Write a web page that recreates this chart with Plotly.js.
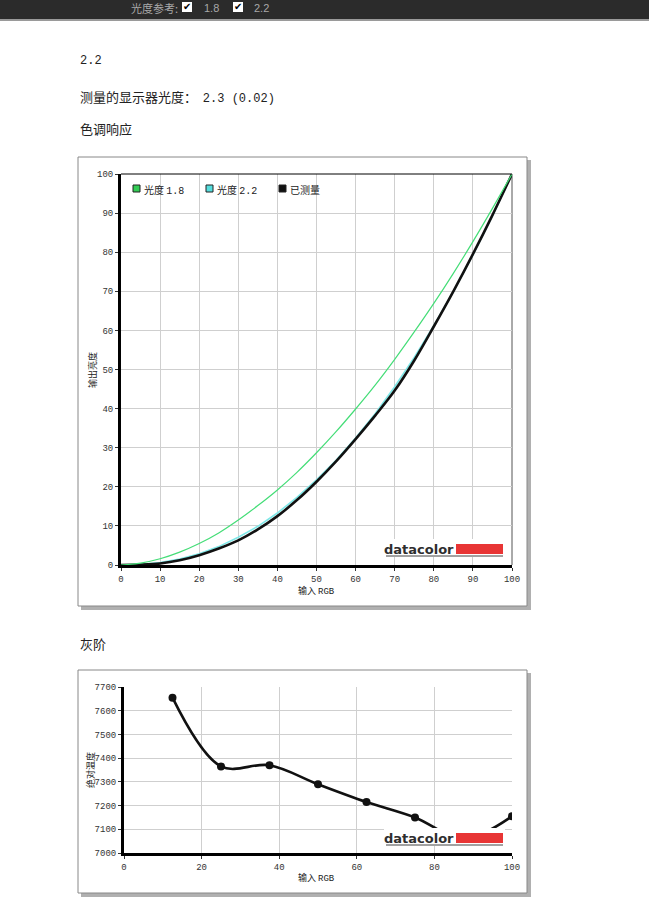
<!DOCTYPE html>
<html>
<head>
<meta charset="utf-8">
<script src="https://cdn.plot.ly/plotly-3.0.1.min.js"></script>
<style>
html,body{margin:0;padding:0;background:#fff;}
#chart{width:649px;height:922px;}
</style>
</head>
<body>
<div id="chart"></div>
<script>
// ---- data ----
const rgbInput = [0,5,10,15,20,25,30,35,40,45,50,55,60,65,70,75,80,85,90,95,100];
const gamma18 = [0,0.5,1.6,3.3,5.5,8.2,11.5,15.2,19.2,23.7,28.7,34.1,39.9,46.0,52.6,59.6,66.9,74.6,82.7,91.2,100];
const gamma22 = [0,0.1,0.6,1.5,2.9,4.7,7.1,9.9,13.3,17.3,21.8,26.8,32.5,38.7,45.6,53.1,61.2,69.9,79.3,89.3,100];
const measured = [0,0.1,0.4,1.2,2.5,4.2,6.3,9.1,12.5,16.6,21.3,26.5,32.2,38.2,44.6,52.3,61.0,70.0,79.5,89.5,100];

const grayInput = [12.5,25,37.5,50,62.5,75,87.5,100];
const grayTemp = [7655,7365,7370,7290,7215,7150,7060,7155];

const legendNames = ["光度 1.8","光度 2.2","已测量"];
const toneTicks = [0,10,20,30,40,50,60,70,80,90,100];
const grayXTicks = [0,20,40,60,80,100];
const grayYTicks = [7000,7100,7200,7300,7400,7500,7600,7700];

// ---- pixel helpers ----
const W = 649, H = 922;
const X = p => p / W;
const Y = p => 1 - p / H;

const mono = "Liberation Mono, DejaVu Sans Mono, monospace";
const tickFont = {family: mono, size: 9, color: "#333"};
const cjk = "Noto Sans CJK SC, sans-serif";

const traces = [
  {x: rgbInput, y: gamma22, xaxis: "x", yaxis: "y", mode: "lines", name: legendNames[1],
   line: {color: "#7fe8e8", width: 1.6}, hoverinfo: "skip"},
  {x: rgbInput, y: measured, xaxis: "x", yaxis: "y", mode: "lines", name: legendNames[2],
   line: {color: "#111", width: 2.6, shape: "spline"}, hoverinfo: "skip"},
  {x: rgbInput, y: gamma18, xaxis: "x", yaxis: "y", mode: "lines", name: legendNames[0],
   line: {color: "#44dd77", width: 1.2, shape: "spline"}, hoverinfo: "skip"},
  {x: grayInput, y: grayTemp, xaxis: "x2", yaxis: "y2", mode: "lines+markers",
   line: {color: "#111", width: 2.6, shape: "spline", smoothing: 1.0},
   marker: {color: "#111", size: 8}, hoverinfo: "skip"}
];

function axisBase() {
  return {showline: true, linewidth: 3, linecolor: "#000", showgrid: true, gridcolor: "#cfcfcf",
    gridwidth: 1, zeroline: false, ticks: "outside", ticklen: 3, tickwidth: 1, tickcolor: "#333",
    tickfont: tickFont, fixedrange: true};
}

const layout = {
  width: W, height: H, margin: {l: 0, r: 0, t: 0, b: 0},
  paper_bgcolor: "#fff", plot_bgcolor: "rgba(0,0,0,0)", showlegend: false,
  xaxis: Object.assign(axisBase(), {domain: [X(121), X(512)], range: [0, 100], tickvals: toneTicks, anchor: "y"}),
  yaxis: Object.assign(axisBase(), {domain: [Y(565), Y(174)], range: [0, 100], tickvals: toneTicks, anchor: "x"}),
  xaxis2: Object.assign(axisBase(), {domain: [X(124), X(512)], range: [0, 100], tickvals: grayXTicks, anchor: "y2"}),
  yaxis2: Object.assign(axisBase(), {domain: [Y(853), Y(687)], range: [7000, 7700], tickvals: grayYTicks, anchor: "x2"}),
  shapes: [], annotations: []
};

const S = layout.shapes, A = layout.annotations;
function rectPx(x0, y0, x1, y1, fill, lineColor, lineW, layer) {
  S.push({type: "rect", xref: "paper", yref: "paper", x0: X(x0), x1: X(x1), y0: Y(y1), y1: Y(y0),
    fillcolor: fill, line: {color: lineColor || fill, width: lineW || 0}, layer: layer || "below"});
}
function linePx(x0, y0, x1, y1, color, w, layer) {
  S.push({type: "line", xref: "paper", yref: "paper", x0: X(x0), x1: X(x1), y0: Y(y0), y1: Y(y1),
    line: {color: color, width: w}, layer: layer || "below"});
}
function textPx(x, y, text, font, opts) {
  A.push(Object.assign({xref: "paper", yref: "paper", x: X(x), y: Y(y), text: text, showarrow: false,
    xanchor: "left", yanchor: "middle", font: font}, opts || {}));
}

// top toolbar
rectPx(0, 0, 649, 19, "#2b2b2b", null, 0, "below");
rectPx(0, 19, 649, 21, "#9a9a9a", null, 0, "below");
textPx(129, 8, "光度参考:", {family: cjk, size: 11, color: "#a8a8a8"});
rectPx(182, 2, 192, 12, "#fff", "#fff", 0, "above");
textPx(187, 7, "✔", {family: "DejaVu Sans", size: 10, color: "#000"}, {xanchor: "center"});
textPx(202, 8, "1.8", {family: "Liberation Sans", size: 11, color: "#a8a8a8"});
rectPx(233, 2, 243, 12, "#fff", "#fff", 0, "above");
textPx(238, 7, "✔", {family: "DejaVu Sans", size: 10, color: "#000"}, {xanchor: "center"});
textPx(252, 8, "2.2", {family: "Liberation Sans", size: 11, color: "#a8a8a8"});

// body texts
textPx(78, 61, "2.2", {family: mono, size: 12, color: "#222"});
textPx(78, 96, "测量的显示器光度：  <span style='font-family:Liberation Mono,monospace;font-size:12px'>2.3 (0.02)</span>", {family: cjk, size: 13, color: "#222"});
textPx(78, 129, "色调响应", {family: cjk, size: 13, color: "#222"});
textPx(78, 643, "灰阶", {family: cjk, size: 13, color: "#222"});

// frames with shadows
rectPx(81, 160, 531, 610, "#b0b0b0", null, 0, "below");
rectPx(78, 157, 527, 606, "#fff", "#888", 1, "below");
rectPx(81, 673, 531, 897, "#b0b0b0", null, 0, "below");
rectPx(78, 670, 527, 893, "#fff", "#888", 1, "below");

// thin top/right border of tone chart
linePx(121, 174, 512, 174, "#000", 1, "above");
linePx(512, 174, 512, 565, "#555", 1, "below");

// legend of tone chart
const legColors = ["#33cc55", "#55dddd", "#111"];
const legX = [133, 206, 279];
for (let i = 0; i < 3; i++) {
  rectPx(legX[i], 185, legX[i] + 7, 192, legColors[i], "#222", 1, "above");
  textPx(legX[i] + 9, 189, legendNames[i].replace(/([0-9.]+)/, "<span style='font-family:Liberation Mono,monospace'>$1</span>"),
    {family: cjk, size: 10, color: "#222"});
}

// axis titles
textPx(316, 590, "输入 <span style='font-family:Liberation Mono,monospace'>RGB</span>", {family: cjk, size: 9, color: "#222"}, {xanchor: "center"});
textPx(92, 370, "输出亮度", {family: cjk, size: 9, color: "#222"}, {xanchor: "center", textangle: -90});
textPx(316, 877, "输入 <span style='font-family:Liberation Mono,monospace'>RGB</span>", {family: cjk, size: 9, color: "#222"}, {xanchor: "center"});
textPx(90, 770, "绝对温度", {family: cjk, size: 9, color: "#222"}, {xanchor: "center", textangle: -90});

// datacolor logos
function logo(yc) {
  rectPx(384, yc - 10, 505, yc + 8, "#fff", null, 0, "above");
  rectPx(456, yc - 5, 503, yc + 5, "#e83535", null, 0, "above");
  linePx(386, yc + 7, 503, yc + 7, "#444", 1, "above");
  textPx(456, yc, "<b>datacolor</b>", {family: "DejaVu Sans, sans-serif", size: 13, color: "#2e2e2e"}, {xanchor: "right"});
}
logo(549);
logo(838);

Plotly.newPlot("chart", traces, layout, {displayModeBar: false, staticPlot: true});
</script>
</body>
</html>
